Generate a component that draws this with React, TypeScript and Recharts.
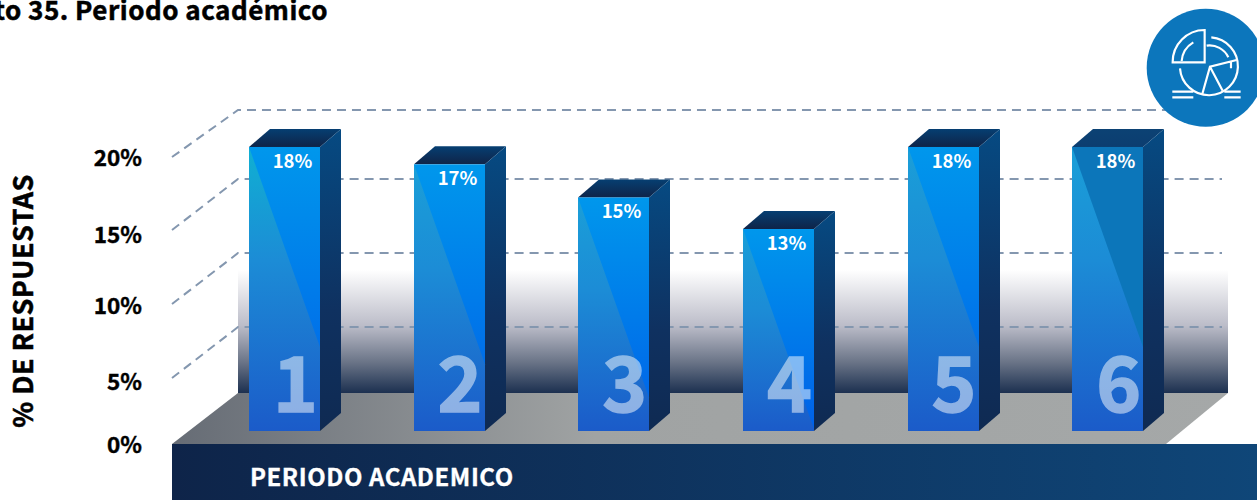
import {
  Bar,
  BarChart,
  CartesianGrid,
  XAxis,
  YAxis,
} from "recharts";

const FONT = '"Noto Sans CJK SC", "Noto Sans", sans-serif';

const PERIODS = ["1", "2", "3", "4", "5", "6"];
// Bar heights; the printed labels are rounded.
const RESPONSES = [18, 16.9, 14.8, 12.8, 18, 18];
const RESPONSE_LABELS = ["18%", "17%", "15%", "13%", "18%", "18%"];

// The axis labels and the wall lines are unevenly spaced in the picture.
const AXIS_TICK_VALUES = [0, 4.38, 9.65, 14.58, 19.93];
const AXIS_TICK_LABELS = ["0%", "5%", "10%", "15%", "20%"];
const WALL_LINE_VALUES = [4.58, 9.72, 14.86, 19.65];
const WALL_LINE_RISES = [51, 51, 51, 47];

const WIDTH = 1257;
const HEIGHT = 500;
const PLOT_TOP = 100;
const PLOT_BOTTOM = 450;
const WALL_LEFT = 238;
const DEPTH_X = 21;
const DEPTH_Y = 18;

const data = PERIODS.map((period, i) => ({
  period,
  value: RESPONSES[i],
  label: RESPONSE_LABELS[i],
}));

/** domain that puts value 0 at pixel y0 with the given px per unit */
function domainFor(y0: number, pxPerUnit: number): [number, number] {
  return [(y0 - PLOT_BOTTOM) / pxPerUnit, (y0 - PLOT_TOP) / pxPerUnit];
}

function Bar3D(props: any) {
  const { x: rawX, y, width, height, index, payload } = props;
  const x = Math.round(rawX);
  const right = x + width;
  const bottom = y + height;
  const drop = Math.min(200, height);
  const muted = index === 5;
  return (
    <g>
      <polygon
        points={`${x},${y} ${x + DEPTH_X},${y - DEPTH_Y} ${right + DEPTH_X},${y - DEPTH_Y} ${right},${y}`}
        fill={muted ? "url(#topMuted)" : "url(#topFace)"}
      />
      <polygon
        points={`${right},${y} ${right + DEPTH_X},${y - DEPTH_Y} ${right + DEPTH_X},${bottom - DEPTH_Y} ${right},${bottom}`}
        fill="url(#sideFace)"
      />
      <rect x={x} y={y} width={width} height={height} fill={muted ? "#0c76ba" : "url(#frontFace)"} />
      <polygon
        points={`${x},${y} ${right},${y + drop} ${right},${bottom} ${x},${bottom}`}
        fill={index === 0 ? "url(#frontShadeTeal)" : "url(#frontShade)"}
      />
      <text
        x={x + width / 2 + 8}
        y={y + 21}
        textAnchor="middle"
        fill="#fff"
        fontFamily={FONT}
        fontWeight={700}
        fontSize={18.5}
      >
        {payload.label}
      </text>
    </g>
  );
}

function PeriodTick(props: any) {
  const { x, payload } = props;
  return (
    <text
      x={x + 11}
      y={412}
      textAnchor="middle"
      fill="#fff"
      stroke="#fff"
      strokeWidth={1.5}
      opacity={0.5}
      fontFamily={FONT}
      fontWeight={700}
      fontSize={76}
    >
      {payload.value}
    </text>
  );
}

function PercentTick(props: any) {
  const { y, index } = props;
  return (
    <text
      x={142}
      y={y + 8}
      textAnchor="end"
      fill="#000"
      stroke="#000"
      strokeWidth={0.4}
      fontFamily={FONT}
      fontWeight={700}
      fontSize={22.5}
    >
      {AXIS_TICK_LABELS[index]}
    </text>
  );
}

function WallLine(props: any) {
  const { x1, x2, y1, index } = props;
  const rise = WALL_LINE_RISES[index] ?? 51;
  return (
    <path
      d={`M${x1},${y1 + rise} L${WALL_LEFT},${y1} L${x2 - 6},${y1}`}
      fill="none"
      stroke="#8497af"
      strokeWidth={2}
      strokeDasharray="9 6"
    />
  );
}

function Backdrop() {
  return (
    <svg width={WIDTH} height={HEIGHT} style={{ position: "absolute", left: 0, top: 0 }}>
      <defs>
        <linearGradient id="wall" x1="0" y1="0" x2="0" y2="1">
          <stop offset="0" stopColor="#ffffff" />
          <stop offset="0.45" stopColor="#bcbdc9" />
          <stop offset="0.75" stopColor="#6a7487" />
          <stop offset="1" stopColor="#1c3050" />
        </linearGradient>
        <linearGradient id="floor" x1="0" y1="0" x2="1" y2="0">
          <stop offset="0" stopColor="#666c75" />
          <stop offset="0.4" stopColor="#a0a3a3" />
          <stop offset="1" stopColor="#a5a8a8" />
        </linearGradient>
        <linearGradient id="band" x1="0" y1="0" x2="1" y2="0">
          <stop offset="0" stopColor="#0e2449" />
          <stop offset="1" stopColor="#0f4678" />
        </linearGradient>
      </defs>
      <rect x={238} y={270} width={990} height={123} fill="url(#wall)" />
      <polygon points="172,444 238,393 1228,393 1166,444" fill="url(#floor)" />
      <rect x={172} y={444} width={1085} height={56} fill="url(#band)" />
    </svg>
  );
}

function Overlay() {
  return (
    <svg width={WIDTH} height={HEIGHT} style={{ position: "absolute", left: 0, top: 0, pointerEvents: "none" }}>
      <text
        x={328}
        y={20}
        textAnchor="end"
        fill="#000"
        stroke="#000"
        strokeWidth={0.5}
        fontFamily={FONT}
        fontWeight={700}
        fontSize={26}
        letterSpacing={0.5}
      >
        to 35. Periodo académico
      </text>
      <circle cx={1205.7} cy={67.7} r={59} fill="#0c76bc" />
      <g transform="translate(1040,0) scale(0.3333)" fill="none" stroke="#fff" strokeWidth={6.5}>
        <path d="M494 90 A96 96 0 0 0 398 187 L494 187 Z" />
        <path d="M425 183 A72 72 0 0 1 460 127" />
        <path d="M514 112 A87 87 0 1 1 420 205" />
        <path d="M500 137 A62 62 0 0 1 565 172" />
        <path d="M590 180 L510 200 L487 282 M510 200 L548 272 M573 185 L573 205" />
        <path d="M397 275 H460 M397 292 H460 M553 275 H602 M553 292 H602" />
      </g>
    </svg>
  );
}

export default function App() {
  return (
    <div style={{ position: "absolute", left: 0, top: 0, width: WIDTH, height: HEIGHT, overflow: "hidden", background: "#fff" }}>
      <Backdrop />
      <div style={{ position: "absolute", left: 0, top: 0 }}>
        <BarChart
          width={WIDTH}
          height={HEIGHT}
          data={data}
          barSize={71}
          margin={{ top: PLOT_TOP, right: WIDTH - 1228, bottom: 0, left: 0 }}
        >
          <defs>
            <linearGradient id="frontFace" x1="0" y1="0" x2="0" y2="1">
              <stop offset="0" stopColor="#0097ec" />
              <stop offset="1" stopColor="#0060e8" />
            </linearGradient>
            <linearGradient id="frontShade" x1="0" y1="0" x2="0" y2="1">
              <stop offset="0" stopColor="#1a9fd8" />
              <stop offset="0.4" stopColor="#1c8cd6" />
              <stop offset="1" stopColor="#1b5bc9" />
            </linearGradient>
            <linearGradient id="frontShadeTeal" x1="0" y1="0" x2="0" y2="1">
              <stop offset="0" stopColor="#10b0d2" />
              <stop offset="0.4" stopColor="#1c8cd6" />
              <stop offset="1" stopColor="#1b5bc9" />
            </linearGradient>
            <linearGradient id="sideFace" x1="0" y1="0" x2="0" y2="1">
              <stop offset="0" stopColor="#064a82" />
              <stop offset="0.6" stopColor="#0f3160" />
              <stop offset="1" stopColor="#0f2a52" />
            </linearGradient>
            <linearGradient id="topFace" x1="0" y1="1" x2="0" y2="0">
              <stop offset="0" stopColor="#0f2448" />
              <stop offset="1" stopColor="#063f72" />
            </linearGradient>
            <linearGradient id="topMuted" x1="0" y1="1" x2="0" y2="0">
              <stop offset="0" stopColor="#0c3d70" />
              <stop offset="1" stopColor="#0c4274" />
            </linearGradient>
          </defs>
          <CartesianGrid
            yAxisId="wall"
            vertical={false}
            horizontal={WallLine as any}
            horizontalValues={WALL_LINE_VALUES}
          />
          <XAxis
            dataKey="period"
            height={HEIGHT - PLOT_BOTTOM}
            axisLine={false}
            tickLine={false}
            padding={{ left: 30, right: 38 }}
            tick={PeriodTick as any}
            label={{
              content: () => (
                <text
                  x={250}
                  y={485.5}
                  fill="#fff"
                  stroke="#fff"
                  strokeWidth={0.3}
                  fontFamily={FONT}
                  fontWeight={700}
                  fontSize={24}
                  letterSpacing={0.55}
                >
                  PERIODO ACADEMICO
                </text>
              ),
            }}
          />
          <YAxis yAxisId="bars" hide domain={domainFor(431, 15.78)} allowDataOverflow />
          <YAxis yAxisId="wall" hide domain={domainFor(393, 14.4)} allowDataOverflow />
          <YAxis
            yAxisId="labels"
            width={172}
            domain={domainFor(445, 14.4)}
            allowDataOverflow
            ticks={AXIS_TICK_VALUES}
            interval={0}
            axisLine={false}
            tickLine={false}
            tick={PercentTick as any}
            label={{
              content: () => (
                <text
                  transform="translate(33,301) rotate(-90)"
                  textAnchor="middle"
                  fill="#000"
                  stroke="#000"
                  strokeWidth={0.5}
                  fontFamily={FONT}
                  fontWeight={700}
                  fontSize={27}
                  letterSpacing={0.45}
                >
                  % DE RESPUESTAS
                </text>
              ),
            }}
          />
          <Bar yAxisId="bars" dataKey="value" shape={Bar3D as any} isAnimationActive={false} />
        </BarChart>
      </div>
      <Overlay />
    </div>
  );
}
